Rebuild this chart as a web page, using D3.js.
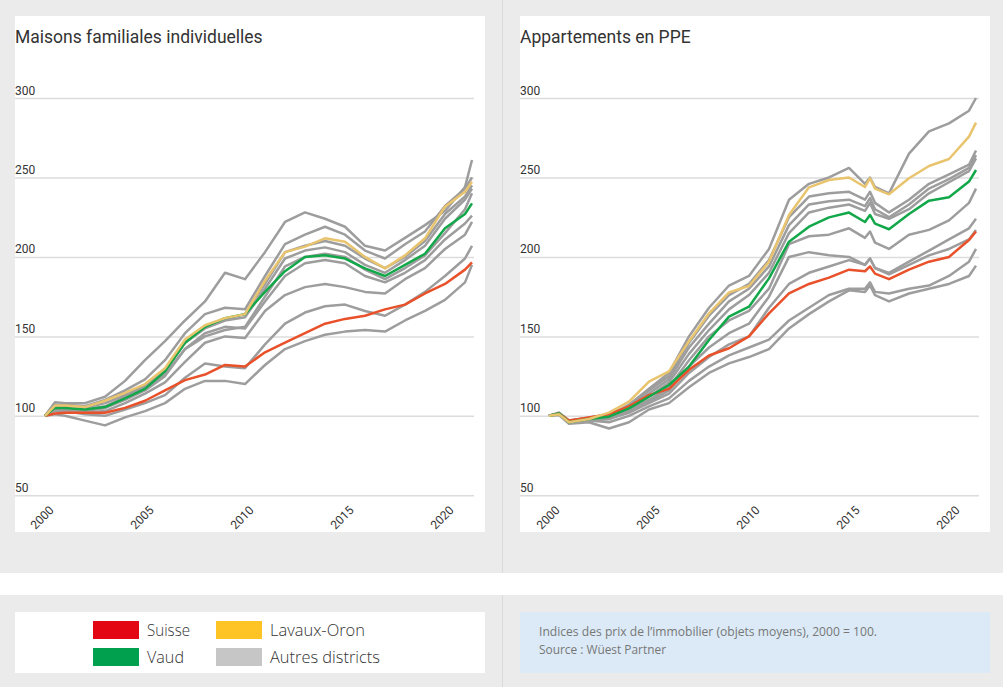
<!DOCTYPE html>
<html><head><meta charset="utf-8">
<script src="https://cdn.jsdelivr.net/npm/d3@7"></script>
<style>html,body{margin:0;padding:0;background:#ebebeb;}svg{display:block;}</style>
</head><body>
<svg id="chart" width="1003" height="687"></svg>
<script>
// ---------- DATA ----------
const xTicks = [2000, 2005, 2010, 2015, 2020];
const yTicks = [50, 100, 150, 200, 250, 300];

// Maisons familiales individuelles
const housesYears  = [2000,2000.5,2001,2002,2003,2004,2005,2006,2007,2008,2009,2010,2011,2012,2013,2014,2015,2016,2017,2018,2019,2020,2021,2021.35];
const housesSuisse = [100,101.5,102,102,102,105,109.5,116,122.5,126,132,131,140,146,152,158,161,163,167,170,177,183,192,196.5];
const housesVaud   = [100,105,105,104,105.5,111,117,128,146,156,161.5,164,178,191,200,201,199,192.8,188,195,202,218,227,233.7];
const housesLavaux = [100,106.5,106.5,105.5,109.5,114.5,120,130,148,157,161.5,164,185,203,206.5,211.7,209.6,200,192.8,201,211.7,231.6,241,247.3];
const housesOthers = [
  [100,108.5,108,108,112,122,135,147,160,172,190,186,203,222,228,224,219,207,204,212,220,229,244,261],
  [100,107,107,106,110,116,123,135,152,164,168,167,188,208,214,219,214,204,199,208,216,232,243,250],
  [100,106.5,106,105,108,113,119,129,146,156,161,164,183,203,207,210,207,199,193,200,210,227,238,245],
  [100,106,105,104,106,112,118,128,146,155,160,162,180,199,204,206,203,195,190,198,207,224,236,243],
  [100,105,105,103,105,110,116,125,142,150,154,156,175,194,200,202,200,192,186,193,201,215,230,240],
  [100,105.5,105,104,105,111,117,126,142,152,156,155,172,188,196,198,196,188,184,190,198,211,221,226],
  [100,104.5,104,102,103,108,114,121,134,146,150,149,166,176,181,183,181,178,177,186,193,205,214,222],
  [100,103,103,101,100,104,108,113,124,133,131,130,145,158,165,169,170,166,163,170,178,188,199,207],
  [100,101,100,97,94,99,103,108,117,122,122,120,132,142,147,151,153,154,153,160,166,173,184,195]
];

// Appartements en PPE
const flatsYears  = [2000,2000.5,2001,2002,2003,2004,2005,2006,2007,2008,2009,2010,2011,2012,2013,2014,2015,2015.8,2016.05,2016.3,2017,2018,2019,2020,2021,2021.35];
const flatsSuisse = [100,101.5,97,99,101,106,113,117,129,138,142.5,150,164.5,177,183,187,192,191,194,189.5,186,192,197,200,210.6,216];
const flatsVaud   = [100,101.5,96,98,99.5,104.7,112,119.4,131,147.7,162.4,168.7,186.5,209.6,219,224.9,227.9,222,226.4,221,217.4,227,235.4,237.5,247.4,254.7];
const flatsLavaux = [100,101,96,98,102,109,121.5,128,147,164.5,177.7,181.7,197,226.4,243.8,248.4,250,244,249.5,243,239.4,249.5,257.2,261.6,275.7,284.5];
const flatsOthers = [
  [100,102,97,98,100,107,117,127,150,168,182,188,205,236,246,250,256,246,250,244,240,265,279,284,292,300],
  [100,101.5,97,99,101,106,116,125,146,163,176,183,198,225,238,240,241,236,241,234,228,236,246,252,258,267],
  [100,101,96,98,100,105,114,123,143,158,172,180,194,220,233,235,236,232,237,230,225,233,243,249,256,264],
  [100,101,96,97,99,104,112,121,139,154,167,176,190,215,228,231,233,229,234,227,224,230,240,247,254,262],
  [100,101.5,96,97,98,103,110,118,135,150,160,166,180,208,213,214,218,212,216,209,205,214,217,223,234,243],
  [100,101,96,97,98,102,109,116,131,143,152,158,175,200,203,201,200,195,199,193,190,197,204,211,218,224],
  [100,102,97,98,99,102,108,114,127,137,145,150,168,183,190,194,198,195,199,193,189,195,201,205,211,217],
  [100,101,96,97,96,100,106,111,122,131,138,143,148,160,168,176,180,180,184,178,177,180,182,188,197,205],
  [100,100.5,95,96,92,96,104,108,118,127,133,137,142,155,164,172,179,178,182,176,172,177,180,183,188,194.5]
];

const legendLabels = ["Suisse", "Vaud", "Lavaux-Oron", "Autres districts"];
const noteLines = ["Indices des prix de l’immobilier (objets moyens), 2000 = 100.", "Source : Wüest Partner"];

// ---------- STYLE ----------
const COL = {suisse:"#e8512a", vaud:"#12a84a", lavaux:"#e9c46e", other:"#9d9d9d"};
const LEG = ["#e30613", "#00a04f", "#fec325", "#c6c6c6"];

const svg = d3.select("#chart");
svg.append("rect").attr("x",0).attr("y",0).attr("width",1003).attr("height",687).attr("fill","#ebebeb");
svg.append("rect").attr("x",0).attr("y",573).attr("width",1003).attr("height",22).attr("fill","#ffffff");
svg.append("line").attr("x1",502.5).attr("x2",502.5).attr("y1",0).attr("y2",573).attr("stroke","#dadada");
svg.append("line").attr("x1",502.5).attr("x2",502.5).attr("y1",595).attr("y2",687).attr("stroke","#dadada");

function panel(opt) {
  const g = svg.append("g");
  g.append("rect").attr("x",opt.left).attr("y",16).attr("width",470).attr("height",516).attr("fill","#fff");
  g.append("text").attr("x",opt.left).attr("y",43).text(opt.title)
    .attr("font-family","Roboto").attr("font-size",17.5).attr("fill","#333");

  const x = d3.scaleLinear().domain([2000, 2021.35]).range([opt.x0, opt.x0 + 427]);
  const y = d3.scaleLinear().domain([50, 300]).range([495.3, 98]);

  const yAxis = d3.axisRight(y).tickValues(yTicks).tickSize(459).tickFormat(d3.format("d"));
  const ya = g.append("g").attr("transform", `translate(${opt.left},0)`).call(yAxis);
  ya.select(".domain").remove();
  ya.selectAll(".tick line").attr("stroke","#dcdcdc").attr("stroke-width",1.5);
  ya.selectAll(".tick text").attr("x",0).attr("dy",-4).attr("text-anchor","start")
    .attr("font-family","Roboto").attr("font-size",12).attr("fill","#333");

  const xAxis = d3.axisBottom(x).tickValues(xTicks).tickSize(0).tickFormat(d3.format("d"));
  const xa = g.append("g").attr("transform","translate(0,511)").call(xAxis);
  xa.select(".domain").remove();
  xa.selectAll(".tick text").attr("text-anchor","end").attr("dy",0).attr("y",0)
    .attr("transform",`translate(${opt.lblOff},0) rotate(-45)`)
    .attr("font-family","Roboto").attr("font-size",12).attr("fill","#333");

  const yrs = opt.years;
  const line = d3.line().x((d,i)=>x(yrs[i])).y(d=>y(d));
  const lg = g.append("g").attr("fill","none").attr("stroke-width",2.5).attr("stroke-linejoin","round");
  opt.others.forEach(s => lg.append("path").attr("d", line(s)).attr("stroke", COL.other));
  lg.append("path").attr("d", line(opt.suisse)).attr("stroke", COL.suisse);
  lg.append("path").attr("d", line(opt.vaud)).attr("stroke", COL.vaud);
  lg.append("path").attr("d", line(opt.lavaux)).attr("stroke", COL.lavaux);
}

panel({left:15, x0:45, lblOff:9, title:"Maisons familiales individuelles", years:housesYears,
  suisse:housesSuisse, vaud:housesVaud, lavaux:housesLavaux, others:housesOthers});
panel({left:520, x0:549, lblOff:11, title:"Appartements en PPE", years:flatsYears,
  suisse:flatsSuisse, vaud:flatsVaud, lavaux:flatsLavaux, others:flatsOthers});

// legend
svg.append("rect").attr("x",15).attr("y",612).attr("width",470).attr("height",61).attr("fill","#fff");
const legPos = [[93,621],[93,648],[216,621],[216,648]];
const legW = [43, 37, 95, 110];
legendLabels.forEach((t,i)=>{
  const [lx,ly] = legPos[i];
  svg.append("rect").attr("x",lx).attr("y",ly).attr("width",46).attr("height",18).attr("fill",LEG[i]);
  svg.append("text").attr("x",lx+54).attr("y",ly+15).text(t)
    .attr("font-family","Open Sans").attr("font-size",17).attr("font-weight",300).attr("fill","#333")
    .attr("textLength",legW[i]).attr("lengthAdjust","spacingAndGlyphs");
});

// note
svg.append("rect").attr("x",520).attr("y",612).attr("width",470).attr("height",61).attr("fill","#dbeaf6");
const noteW = [338, 127];
noteLines.forEach((t,i)=>{
  svg.append("text").attr("x",539).attr("y",636 + i*18).text(t)
    .attr("font-family","Open Sans").attr("font-size",13).attr("fill","#777")
    .attr("textLength",noteW[i]).attr("lengthAdjust","spacingAndGlyphs");
});
</script>
</body></html>
